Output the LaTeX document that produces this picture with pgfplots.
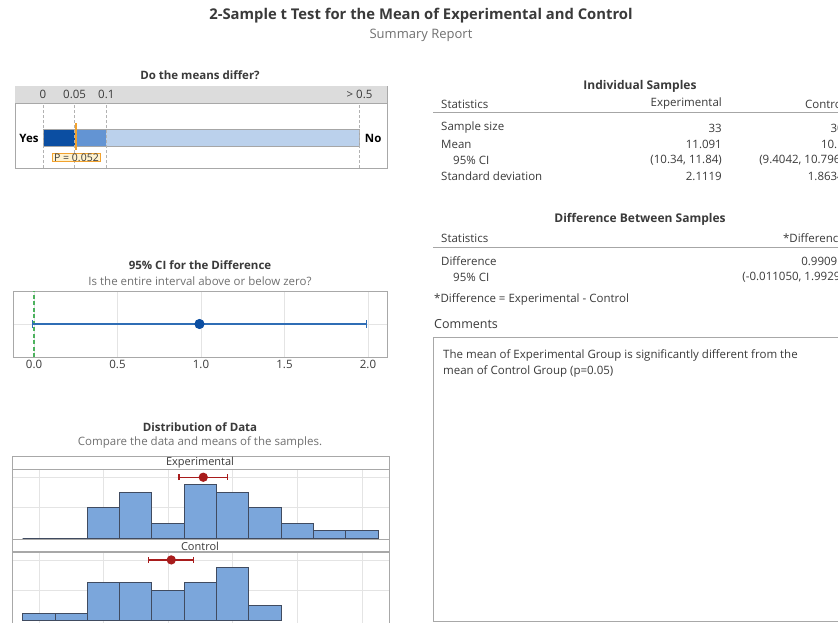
\documentclass[border=0pt]{standalone}
\usepackage{pgfplots}
\pgfplotsset{compat=1.18}
\usepackage{fontspec}
\setmainfont{Open Sans}
\definecolor{txt}{HTML}{3A3A3A}
\definecolor{subc}{HTML}{707070}
\definecolor{frame}{HTML}{A8A8A8}
\definecolor{band}{HTML}{DCDCDC}
\definecolor{dblue}{HTML}{0B4EA2}
\definecolor{mblue}{HTML}{6394D3}
\definecolor{lblue}{HTML}{BBD1EC}
\definecolor{orng}{HTML}{F2A22E}
\definecolor{pfill}{HTML}{FFF2CF}
\definecolor{cib}{HTML}{2F6DB5}
\definecolor{ptb}{HTML}{0B4EA2}
\definecolor{grn}{HTML}{4DB25E}
\definecolor{hist}{HTML}{7BA6DB}
\definecolor{histe}{HTML}{404B60}
\definecolor{cired}{HTML}{A81C1C}
\definecolor{gridc}{HTML}{E4E4E4}
\newcommand\fs[1]{\fontsize{#1}{#1}\selectfont}
\begin{document}
\begin{tikzpicture}[x=1pt,y=-1pt]
\path[use as bounding box] (0,0) rectangle (838,623);
\clip (0,0) rectangle (838,623);
\fill[white] (0,0) rectangle (838,623);

% ---------- titles ----------
\node[font=\fs{14.8}\bfseries, text=txt] at (421,16) {2-Sample t Test for the Mean of Experimental and Control};
\node[font=\fs{13}, text=subc] at (421,35) {Summary Report};

% ---------- panel 1 ----------
\node[font=\fs{11.5}\bfseries, text=txt] at (200,75) {Do the means differ?};
\begin{axis}[anchor=north west, at={(15pt,-86pt)}, scale only axis, width=372pt, height=82pt,
  xmin=-0.0442, xmax=0.5434, ymin=0, ymax=1, axis line style={draw=frame}, ticks=none, clip=false]
  \fill[band] (axis cs:-0.0442,0.793) rectangle (axis cs:0.5434,1);
  \draw[frame] (axis cs:-0.0442,0.793) -- (axis cs:0.5434,0.793);
  \addplot[fill=dblue, draw=none] coordinates {(0,0.268) (0.05,0.268) (0.05,0.476) (0,0.476)} -- cycle;
  \addplot[fill=mblue, draw=none] coordinates {(0.05,0.268) (0.1,0.268) (0.1,0.476) (0.05,0.476)} -- cycle;
  \addplot[fill=lblue, draw=none] coordinates {(0.1,0.268) (0.5,0.268) (0.5,0.476) (0.1,0.476)} -- cycle;
  \addplot[draw=black!35, line width=0.6pt] coordinates {(0,0.268) (0.5,0.268) (0.5,0.476) (0,0.476)} -- cycle;
  \addplot[black!30, dash pattern=on 3pt off 2pt] coordinates {(0,0) (0,0.793)};
  \addplot[black!30, dash pattern=on 3pt off 2pt] coordinates {(0.05,0) (0.05,0.793)};
  \addplot[black!30, dash pattern=on 3pt off 2pt] coordinates {(0.1,0) (0.1,0.793)};
  \addplot[black!30, dash pattern=on 3pt off 2pt] coordinates {(0.5,0) (0.5,0.793)};
  \addplot[orng, line width=2.4pt] coordinates {(0.052,0.22) (0.052,0.549)};
  \node[font=\fs{11.5}, text=txt] at (axis cs:0,0.896) {0};
  \node[font=\fs{11.5}, text=txt] at (axis cs:0.05,0.896) {0.05};
  \node[font=\fs{11.5}, text=txt] at (axis cs:0.1,0.896) {0.1};
  \node[font=\fs{11.5}, text=txt] at (axis cs:0.5,0.896) {> 0.5};
  \node[font=\fs{11.5}\bfseries, text=black] at (axis cs:-0.0221,0.366) {Yes};
  \node[font=\fs{11.5}\bfseries, text=black] at (axis cs:0.5215,0.366) {No};
  \node[draw=orng, fill=pfill, line width=0.8pt, inner xsep=2pt, inner ysep=0.5pt, font=\fs{10.5}, text=txt] at (axis cs:0.0529,0.128) {P = 0.052};
\end{axis}

% ---------- panel 2 ----------
\node[font=\fs{11.5}\bfseries, text=txt] at (200,265) {95\% CI for the Difference};
\node[font=\fs{11.5}, text=subc] at (200,281) {Is the entire interval above or below zero?};
\begin{axis}[anchor=north west, at={(13pt,-291pt)}, scale only axis, width=374pt, height=66pt,
  xmin=-0.126, xmax=2.114, ymin=0, ymax=2,
  xtick={0,0.5,1,1.5,2}, xticklabels={0.0,0.5,1.0,1.5,2.0}, ytick={1}, yticklabels={},
  major tick length=0pt, xmajorgrids, ymajorgrids, grid style={gridc, line width=0.6pt},
  axis line style={draw=frame}, tick label style={font=\fs{11.5}, text=txt}, clip=false]
  \addplot[grn, line width=1.3pt, dash pattern=on 4pt off 2.5pt] coordinates {(0,0) (0,2)};
  \addplot[cib, line width=1.1pt, mark=*, mark size=4.5pt, mark options={fill=ptb, draw=ptb},
    error bars/.cd, x dir=both, x explicit, error mark=|,
    error bar style={cib, line width=1.1pt}, error mark options={cib, mark size=4pt, line width=1.1pt}]
    coordinates {(0.99091,1) += (1.00199,0) -= (1.00196,0)};
\end{axis}

% ---------- panel 3 ----------
\node[font=\fs{11.5}\bfseries, text=txt] at (200,427) {Distribution of Data};
\node[font=\fs{11.5}, text=subc] at (200,442) {Compare the data and means of the samples.};
\draw[frame, line width=0.8pt] (12,456) rectangle (389,640);
\draw[frame, line width=0.8pt] (12,456) rectangle (389,469);
\draw[frame, line width=0.8pt] (12,539.3) rectangle (389,551.7);
\node[font=\fs{11}, text=txt] at (200,463) {Experimental};
\node[font=\fs{11}, text=txt] at (200,546) {Control};

\begin{axis}[anchor=north west, at={(12pt,-469pt)}, scale only axis, width=377pt, height=70.3pt,
  xmin=5.17, xmax=16.84, ymin=-0.13, ymax=9.08,
  xtick={6,8,...,16}, ytick={4,8}, xticklabels={}, yticklabels={},
  major tick length=0pt, xmajorgrids, ymajorgrids, grid style={gridc, line width=0.6pt},
  axis line style={draw=frame}]
  \addplot[ybar interval, fill=hist, draw=histe, line width=0.8pt]
    coordinates {(5.5,0) (6.5,0) (7.5,4) (8.5,6) (9.5,2) (10.5,7) (11.5,6) (12.5,4) (13.5,2) (14.5,1) (15.5,1) (16.5,1)};
  \addplot[cired, line width=1.2pt, mark=*, mark size=4pt, mark options={fill=cired, draw=cired},
    error bars/.cd, x dir=both, x explicit, error mark=|,
    error bar style={cired, line width=1.2pt}, error mark options={cired, mark size=3pt, line width=1.2pt}]
    coordinates {(11.091,8) += (0.749,0) -= (0.751,0)};
\end{axis}

\begin{axis}[anchor=north west, at={(12pt,-551.7pt)}, scale only axis, width=377pt, height=71.3pt,
  xmin=5.17, xmax=16.84, ymin=-0.3, ymax=9.08,
  xtick={6,8,...,16}, ytick={4,8}, xticklabels={}, yticklabels={},
  major tick length=0pt, xmajorgrids, ymajorgrids, grid style={gridc, line width=0.6pt},
  axis line style={draw=frame}]
  \addplot[ybar interval, fill=hist, draw=histe, line width=0.8pt]
    coordinates {(5.5,1) (6.5,1) (7.5,5) (8.5,5) (9.5,4) (10.5,5) (11.5,7) (12.5,2) (13.5,2)};
  \addplot[cired, line width=1.2pt, mark=*, mark size=4pt, mark options={fill=cired, draw=cired},
    error bars/.cd, x dir=both, x explicit, error mark=|,
    error bar style={cired, line width=1.2pt}, error mark options={cired, mark size=3pt, line width=1.2pt}]
    coordinates {(10.1,8) += (0.696,0) -= (0.6958,0)};
\end{axis}

% ---------- right: Individual samples ----------
\begin{scope}[every node/.style={font=\fs{11.5}, text=txt, inner sep=0pt}]
\node[font=\fs{12}\bfseries] at (640,86) {Individual Samples};
\node[anchor=west] at (441,104) {Statistics};
\node[anchor=east] at (722,104) {Experimental};
\node[anchor=east] at (845,104) {Control};
\draw[black!35, line width=1pt] (433,113) -- (838,113);
\node[anchor=west] at (441,128) {Sample size};
\node[anchor=west] at (441,144) {Mean};
\node[anchor=west] at (453,160) {95\% CI};
\node[anchor=west] at (441,176) {Standard deviation};
\node[anchor=east] at (722,128) {33};
\node[anchor=east] at (722,144) {11.091};
\node[anchor=east] at (722,160) {(10.34, 11.84)};
\node[anchor=east] at (722,176) {2.1119};
\node[anchor=east] at (844,128) {30};
\node[anchor=east] at (844,144) {10.1};
\node[anchor=east] at (844,160) {(9.4042, 10.796)};
\node[anchor=east] at (844,176) {1.8634};

% ---------- Difference ----------
\node[font=\fs{12}\bfseries] at (640,219) {Difference Between Samples};
\node[anchor=west] at (441,238) {Statistics};
\node[anchor=east] at (845,238) {*Difference};
\draw[black!35, line width=1pt] (433,247) -- (838,247);
\node[anchor=west] at (441,261) {Difference};
\node[anchor=west] at (453,277) {95\% CI};
\node[anchor=east] at (844,261) {0.99091};
\node[anchor=east] at (844,277) {(-0.011050, 1.9929)};
\node[anchor=west] at (434,299) {*Difference = Experimental - Control};
\node[anchor=west, font=\fs{12.5}] at (434,324) {Comments};
\draw[frame, line width=0.8pt] (433,337) rectangle (860,621);
\node[anchor=west] at (443,355) {The mean of Experimental Group is significantly different from the};
\node[anchor=west] at (443,371) {mean of Control Group (p=0.05)};
\end{scope}
\end{tikzpicture}
\end{document}
